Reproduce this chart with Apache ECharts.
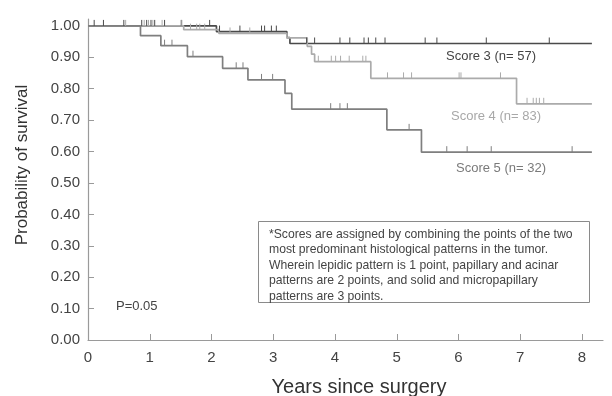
<!DOCTYPE html>
<html>
<head>
<meta charset="utf-8">
<script src="https://cdn.jsdelivr.net/npm/echarts@6/dist/echarts.min.js"></script>
<style>
  html, body { margin: 0; padding: 0; background: #fff; }
  #chart { width: 612px; height: 396px; }
</style>
</head>
<body>
<div id="chart"></div>
<script>
// Kaplan-Meier step curves: event times (years) and survival after each step
const score3Times = [0, 2.08, 3.22, 3.27, 8.16];
const score3Surv  = [1.0, 0.982, 0.963, 0.944, 0.944];

const score4Times = [0, 1.55, 2.12, 3.22, 3.55, 3.62, 3.67, 4.58, 6.94, 8.16];
const score4Surv  = [1.0, 0.988, 0.976, 0.962, 0.935, 0.91, 0.886, 0.833, 0.752, 0.752];

const score5Times = [0, 0.85, 1.18, 1.61, 2.18, 2.59, 3.19, 3.30, 4.84, 5.40, 8.16];
const score5Surv  = [1.0, 0.969, 0.937, 0.902, 0.865, 0.828, 0.785, 0.735, 0.669, 0.598, 0.598];

// Censoring times (years)
const score3Censored = [0.10, 0.25, 0.58, 0.87, 0.95, 1.02, 1.08, 1.24, 1.51, 1.97,
  2.13, 2.46, 2.81, 2.86, 2.97, 3.05, 3.54, 3.67, 4.08, 4.24, 4.47, 4.54, 4.66, 4.81,
  5.46, 5.65, 6.45, 7.47];
const score4Censored = [0.61, 0.91, 0.98, 1.05, 1.20, 1.52, 1.66, 1.76, 1.81, 1.89,
  2.30, 2.62, 3.73, 3.94, 4.01, 4.09, 4.23, 4.45, 4.50, 4.85, 5.11, 5.24, 6.01, 6.04,
  6.68, 7.11, 7.21, 7.26, 7.31, 7.38];
const score5Censored = [1.24, 1.36, 1.70, 2.40, 2.51, 2.81, 2.99, 3.93, 4.08, 4.20,
  5.20, 5.81, 6.14, 6.53, 7.84];

const xTicks = [0, 1, 2, 3, 4, 5, 6, 7, 8];
const yTicks = [0, 0.1, 0.2, 0.3, 0.4, 0.5, 0.6, 0.7, 0.8, 0.9, 1.0];

const seriesNames = ['Score 3 (n= 57)', 'Score 4 (n= 83)', 'Score 5 (n= 32)'];
const noteLines = [
  '*Scores are assigned by combining the points of the two',
  'most predominant histological patterns in the tumor.',
  'Wherein lepidic pattern is 1 point, papillary and acinar',
  'patterns are 2 points, and solid and micropapillary',
  'patterns are 3 points.'
];
const pValueText = 'P=0.05';

const colors = ['#4a4a4a', '#ababab', '#7f7f7f'];
const FONT = 'Liberation Sans, Arial, sans-serif';

function stepData(times, surv) {
  return times.map((t, i) => [t, surv[i]]);
}
// survival of a curve at time t (last step at or before t)
function survAt(times, surv, t) {
  let v = surv[0];
  for (let i = 0; i < times.length; i++) {
    if (times[i] <= t) v = surv[i];
  }
  return v;
}
function censorData(times, surv, cens) {
  return cens.map(t => [t, survAt(times, surv, t)]);
}

function stepSeries(name, data, color) {
  return {
    name: name,
    type: 'line',
    step: 'end',
    data: data,
    symbol: 'none',
    lineStyle: { color: color, width: 1.7 },
    z: 3
  };
}
function censorSeries(data, color) {
  return {
    type: 'custom',
    data: data,
    z: 4,
    renderItem: function (params, api) {
      const p = api.coord([api.value(0), api.value(1)]);
      return {
        type: 'line',
        shape: { x1: p[0], y1: p[1], x2: p[0], y2: p[1] - 6 },
        style: { stroke: color, lineWidth: 1 }
      };
    }
  };
}

const chart = echarts.init(document.getElementById('chart'), null, { renderer: 'canvas' });

const option = {
  animation: false,
  backgroundColor: '#fff',
  grid: { left: 88, right: 9, top: 19, bottom: 56, containLabel: false },
  xAxis: {
    type: 'value',
    min: 0,
    max: 8.34,
    axisLine: { show: true, lineStyle: { color: '#9a9a9a', width: 1.2 } },
    axisTick: { show: true, inside: true, length: 6, customValues: xTicks,
      lineStyle: { color: '#9a9a9a', width: 1 } },
    axisLabel: { customValues: xTicks, margin: 10, color: '#444',
      fontSize: 15, fontFamily: FONT },
    splitLine: { show: false }
  },
  yAxis: {
    type: 'value',
    min: 0,
    max: 1.022,
    axisLine: { show: true, lineStyle: { color: '#9a9a9a', width: 1.2 } },
    axisTick: { show: true, inside: true, length: 6, customValues: yTicks,
      lineStyle: { color: '#9a9a9a', width: 1 } },
    axisLabel: { customValues: yTicks, margin: 8, color: '#444',
      fontSize: 15, fontFamily: FONT,
      formatter: v => v.toFixed(2) },
    splitLine: { show: false }
  },
  series: [
    stepSeries(seriesNames[0], stepData(score3Times, score3Surv), colors[0]),
    stepSeries(seriesNames[1], stepData(score4Times, score4Surv), colors[1]),
    stepSeries(seriesNames[2], stepData(score5Times, score5Surv), colors[2]),
    censorSeries(censorData(score3Times, score3Surv, score3Censored), colors[0]),
    censorSeries(censorData(score4Times, score4Surv, score4Censored), colors[1]),
    censorSeries(censorData(score5Times, score5Surv, score5Censored), colors[2])
  ],
  graphic: [
    { type: 'text', x: 22, y: 165, rotation: Math.PI / 2,
      style: { text: 'Probability of survival', font: '17px ' + FONT, fill: '#333',
        align: 'center', verticalAlign: 'middle' } },
    { type: 'text', x: 359, y: 387,
      style: { text: 'Years since surgery', font: '20px ' + FONT, fill: '#333',
        align: 'center', verticalAlign: 'middle' } },
    { type: 'text', x: 446, y: 56,
      style: { text: seriesNames[0], font: '13px ' + FONT, fill: '#444',
        align: 'left', verticalAlign: 'middle' } },
    { type: 'text', x: 451, y: 116,
      style: { text: seriesNames[1], font: '13px ' + FONT, fill: '#a8a8a8',
        align: 'left', verticalAlign: 'middle' } },
    { type: 'text', x: 456, y: 168,
      style: { text: seriesNames[2], font: '13px ' + FONT, fill: '#7a7a7a',
        align: 'left', verticalAlign: 'middle' } },
    { type: 'text', x: 116, y: 306,
      style: { text: pValueText, font: '13px ' + FONT, fill: '#444',
        align: 'left', verticalAlign: 'middle' } },
    { type: 'rect', shape: { x: 258.5, y: 221.5, width: 331, height: 81 },
      style: { fill: '#fff', stroke: '#8a8a8a', lineWidth: 1 }, z: 10 },
    { type: 'text', x: 269, y: 226.5, z: 11,
      style: { text: noteLines.join('\n'), font: '12.2px ' + FONT, fill: '#444',
        lineHeight: 15.5, align: 'left', verticalAlign: 'top' } }
  ]
};

chart.setOption(option);
</script>
</body>
</html>
